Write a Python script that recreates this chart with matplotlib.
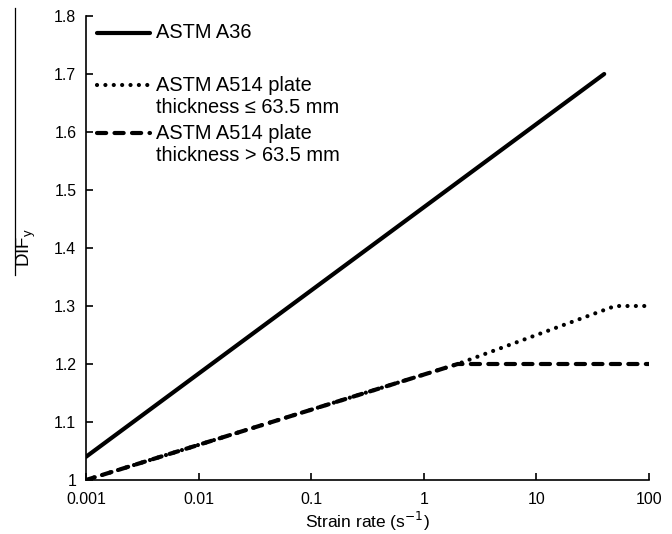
import matplotlib
matplotlib.use("Agg")
import matplotlib.pyplot as plt
from matplotlib.lines import Line2D
from matplotlib.ticker import FixedLocator, FuncFormatter, NullLocator

plt.rcParams["font.family"] = ["Liberation Sans", "DejaVu Sans"]

# ─── data ───────────────────────────────────────────────────────────
a36_rate = [0.001, 40]
a36_dif = [1.04, 1.70]

thin_rate = [0.001, 2, 50, 100]      # A514, thickness <= 63.5 mm
thin_dif = [1.00, 1.20, 1.30, 1.30]

thick_rate = [0.001, 2, 100]         # A514, thickness > 63.5 mm
thick_dif = [1.00, 1.20, 1.20]

x_ticks = [0.001, 0.01, 0.1, 1, 10, 100]
x_labels = ["0.001", "0.01", "0.1", "1", "10", "100"]
y_ticks = [1.0, 1.1, 1.2, 1.3, 1.4, 1.5, 1.6, 1.7, 1.8]

legend_labels = ["ASTM A36",
                 "ASTM A514 plate\nthickness \u2264 63.5 mm",
                 "ASTM A514 plate\nthickness > 63.5 mm"]

W, H = 672, 534
fig = plt.figure(figsize=(W / 100, H / 100), dpi=100)
ax = fig.add_axes([86 / W, 1 - 480 / H, (649 - 86) / W, (480 - 16) / H])

SOLID = dict(color="black", lw=3.0, solid_capstyle="round")
DOTTED = dict(color="black", lw=3.0, linestyle=(0, (0.01, 2.0)),
              dash_capstyle="round")
DASHED = dict(color="black", lw=3.0, linestyle=(0, (2.2, 2.0)),
              dash_capstyle="round")

ax.plot(a36_rate, a36_dif, **SOLID)
ax.plot(thin_rate, thin_dif, **DOTTED)
ax.plot(thick_rate, thick_dif, **DASHED)

ax.set_xscale("log")
ax.set_xlim(0.001, 100)
ax.set_ylim(1.0, 1.8)
ax.xaxis.set_major_locator(FixedLocator(x_ticks))
ax.xaxis.set_minor_locator(NullLocator())
ax.set_xticklabels(x_labels)
ax.yaxis.set_major_locator(FixedLocator(y_ticks))
ax.yaxis.set_major_formatter(FuncFormatter(lambda v, p: f"{v:g}"))

for s in ("top", "right"):
    ax.spines[s].set_visible(False)
for s in ("left", "bottom"):
    ax.spines[s].set_linewidth(1.2)
ax.tick_params(direction="in", length=5, width=1.2, labelsize=11.4, pad=7)
ax.tick_params(axis="x", pad=9)

ax.set_xlabel("Strain rate (s$^{-1}$)", fontsize=12.5, labelpad=2)
fig.text(26 / W, 1 - 248 / H, "DIF$_\\mathregular{y}$", rotation=90,
         ha="center", va="center", fontsize=13.5)
# thin vertical rule at far left
fig.add_artist(Line2D([15 / W, 15 / W], [1 - 8 / H, 1 - 275 / H],
                      transform=fig.transFigure, color="black", lw=0.9))

# ─── legend drawn by hand ───────────────────────────────────────────
styles = [SOLID, DOTTED, DASHED]
rows_y = [33, 85, 133]
for st, lab, y in zip(styles, legend_labels, rows_y):
    yf = 1 - y / H
    fig.add_artist(Line2D([97 / W, 150 / W], [yf, yf],
                          transform=fig.transFigure, **st))
    if "\n" in lab:
        fig.text(156 / W, 1 - (y - 9) / H, lab, ha="left", va="top",
                 fontsize=14.4, linespacing=1.2)
    else:
        fig.text(156 / W, yf, lab, ha="left", va="center", fontsize=14.4)

fig.savefig("out.png", dpi=100, facecolor="white")
